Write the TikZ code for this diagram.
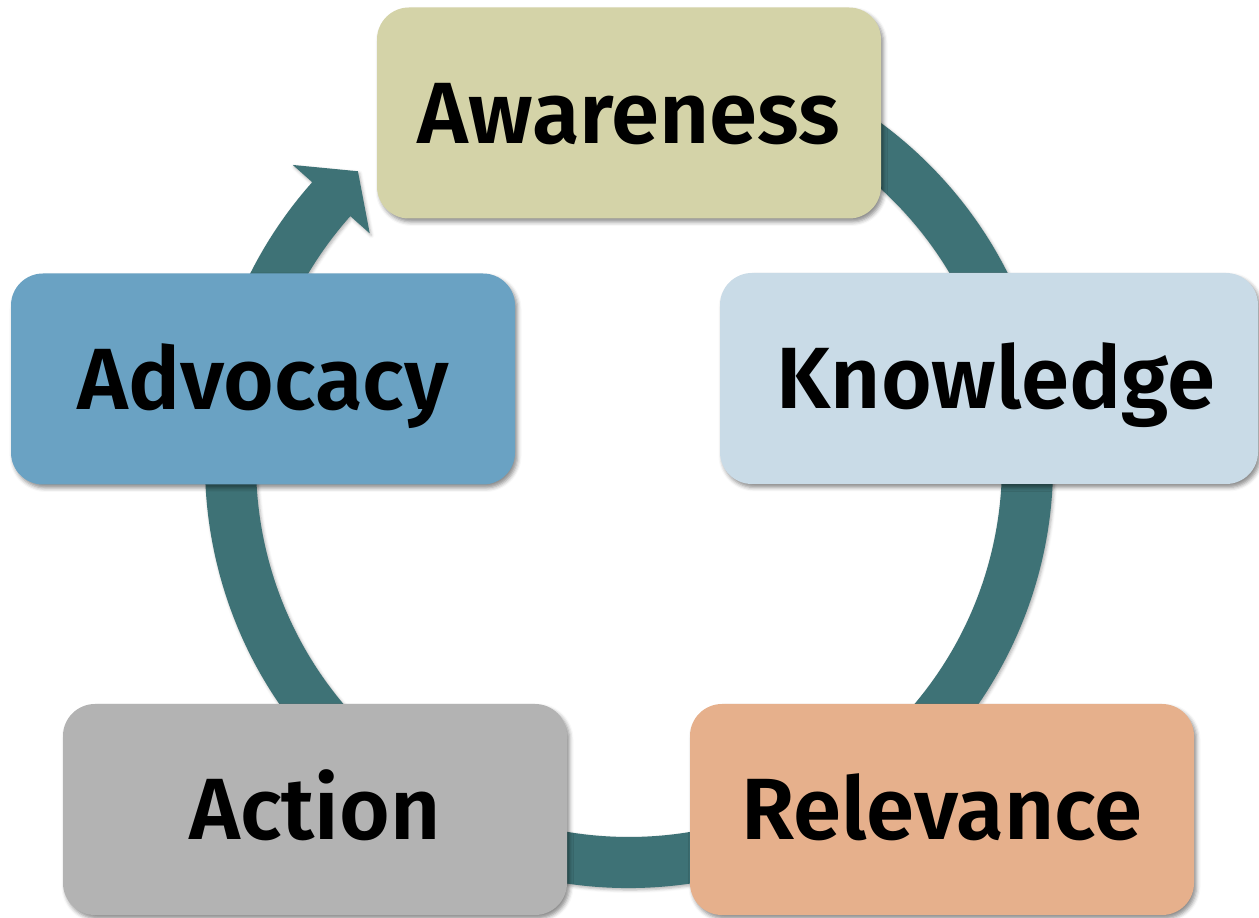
\documentclass[tikz,border=0pt]{standalone}
\usepackage{fontspec}
\setmainfont{Fira Sans}[BoldFont={Fira Sans SemiBold}]
\usetikzlibrary{shadows.blur}

\definecolor{ringteal}{HTML}{3E7276}
\definecolor{awarefill}{HTML}{D4D3A8}
\definecolor{knowfill}{HTML}{C9DBE7}
\definecolor{relefill}{HTML}{E6B08C}
\definecolor{actfill}{HTML}{B3B3B3}
\definecolor{advofill}{HTML}{6AA2C3}

\begin{document}
\begin{tikzpicture}[x=1pt,y=1pt,
  stagebox/.style={rounded corners=32pt, inner sep=0pt,
    minimum width=504pt, minimum height=211pt,
    text height=61pt, text depth=0pt,
    font=\fontsize{87}{90}\selectfont\bfseries,
    blur shadow={shadow xshift=2.5pt, shadow yshift=-3.5pt,
      shadow blur radius=4pt, shadow opacity=45}},
  ringshadow/.style={blur shadow={shadow xshift=1.5pt, shadow yshift=-2pt,
      shadow blur radius=3pt, shadow opacity=30}}]
\useasboundingbox (0,0) rectangle (1259,918);

% circular arrow running clockwise behind the stages
\coordinate (ringc) at (629,454);
\fill[ringteal, ringshadow]
  ([shift={(100:424)}]ringc) arc[start angle=100, end angle=-221.65, radius=424]
  -- ([shift={(138.35:450)}]ringc)
  -- ([shift={(132.8:399)}]ringc)
  -- ([shift={(138.35:347)}]ringc)
  -- ([shift={(138.35:373)}]ringc)
  arc[start angle=-221.65, end angle=100, radius=373] -- cycle;

% the five stages
\node[stagebox, fill=awarefill] (aware) at (629,805) {Awareness};
\node[stagebox, fill=knowfill, minimum width=538pt] (know) at (989,539.5) {\hspace*{14pt}Knowledge};
\node[stagebox, fill=relefill] (rele) at (942,108.5) {Relevance};
\node[stagebox, fill=actfill] (act) at (315,108.5) {Action};
\node[stagebox, fill=advofill] (advo) at (263,539) {Advocacy};
\end{tikzpicture}
\end{document}
